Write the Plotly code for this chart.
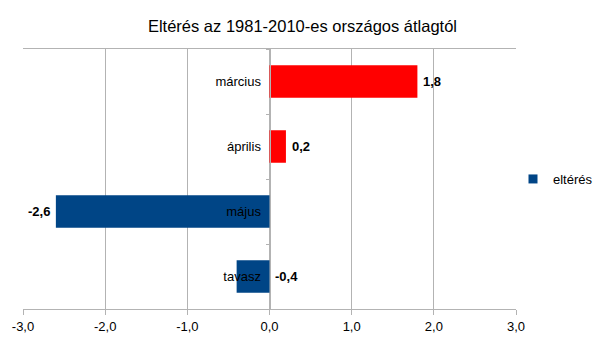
import plotly.graph_objects as go

categories = ["március", "április", "május", "tavasz"]
values = [1.8, 0.2, -2.6, -0.4]
bar_colors = ["#ff0000", "#ff0000", "#004586", "#004586"]
series_name = "eltérés"
title_text = "Eltérés az 1981-2010-es országos átlagtól"
x_ticks = [-3, -2, -1, 0, 1, 2, 3]
x_ticktext = [f"{t:.1f}".replace(".", ",") for t in x_ticks]

FONT = "Liberation Sans, Arial, sans-serif"
GRID = "#b3b3b3"

fig = go.Figure()
fig.add_trace(go.Bar(
    y=categories,
    x=values,
    orientation="h",
    marker=dict(color=bar_colors, line=dict(width=0)),
    name=series_name,
    showlegend=False,
    width=0.5,
))
# legend entry in blue
fig.add_trace(go.Scatter(
    y=[None], x=[None], mode="markers",
    marker=dict(color="#004586", symbol="square", size=9),
    name=series_name, showlegend=True,
))

# data labels
for c, v in zip(categories, values):
    lab = f"{v:.1f}".replace(".", ",")
    if v >= 0:
        ax, anchor, shift = v, "left", 4
    elif v < -1:
        ax, anchor, shift = v, "right", -4
    else:
        ax, anchor, shift = 0, "left", 3
    fig.add_annotation(x=ax, y=c, text=f"<b>{lab}</b>", showarrow=False,
                       xanchor=anchor, xshift=shift, yanchor="middle",
                       font=dict(family=FONT, size=13, color="black"))

fig.update_layout(
    width=605, height=340,
    margin=dict(l=23, r=89, t=49, b=31, autoexpand=False),
    paper_bgcolor="white", plot_bgcolor="white",
    title=dict(text=title_text, x=0.5, xref="container", xanchor="center",
               y=1 - 26 / 340, yanchor="middle",
               font=dict(family=FONT, size=16.5, color="black")),
    font=dict(family=FONT, size=13, color="black"),
    legend=dict(x=1.0 - 3 / 493, xanchor="left", y=0.5, yanchor="middle",
                font=dict(family=FONT, size=13, color="black"),
                itemwidth=30, bgcolor="rgba(0,0,0,0)"),
    xaxis=dict(range=[-3, 3], tickvals=x_ticks, ticktext=x_ticktext,
               showgrid=True, gridcolor=GRID, gridwidth=1,
               zeroline=False, showline=True, linecolor=GRID, linewidth=1,
               mirror=True, ticks="outside", ticklen=5, tickcolor=GRID,
               tickfont=dict(family=FONT, size=13, color="black"),
               fixedrange=True),
    yaxis=dict(autorange="reversed", type="category",
               anchor="free", position=0.5,
               showgrid=False, zeroline=False,
               showline=True, linecolor=GRID, linewidth=1,
               ticks="outside", ticklen=4, tickcolor=GRID, tickson="boundaries",
               ticklabelstandoff=6,
               tickfont=dict(family=FONT, size=13, color="black"),
               fixedrange=True),
    bargap=0.5,
)

fig.write_html("out.html")
